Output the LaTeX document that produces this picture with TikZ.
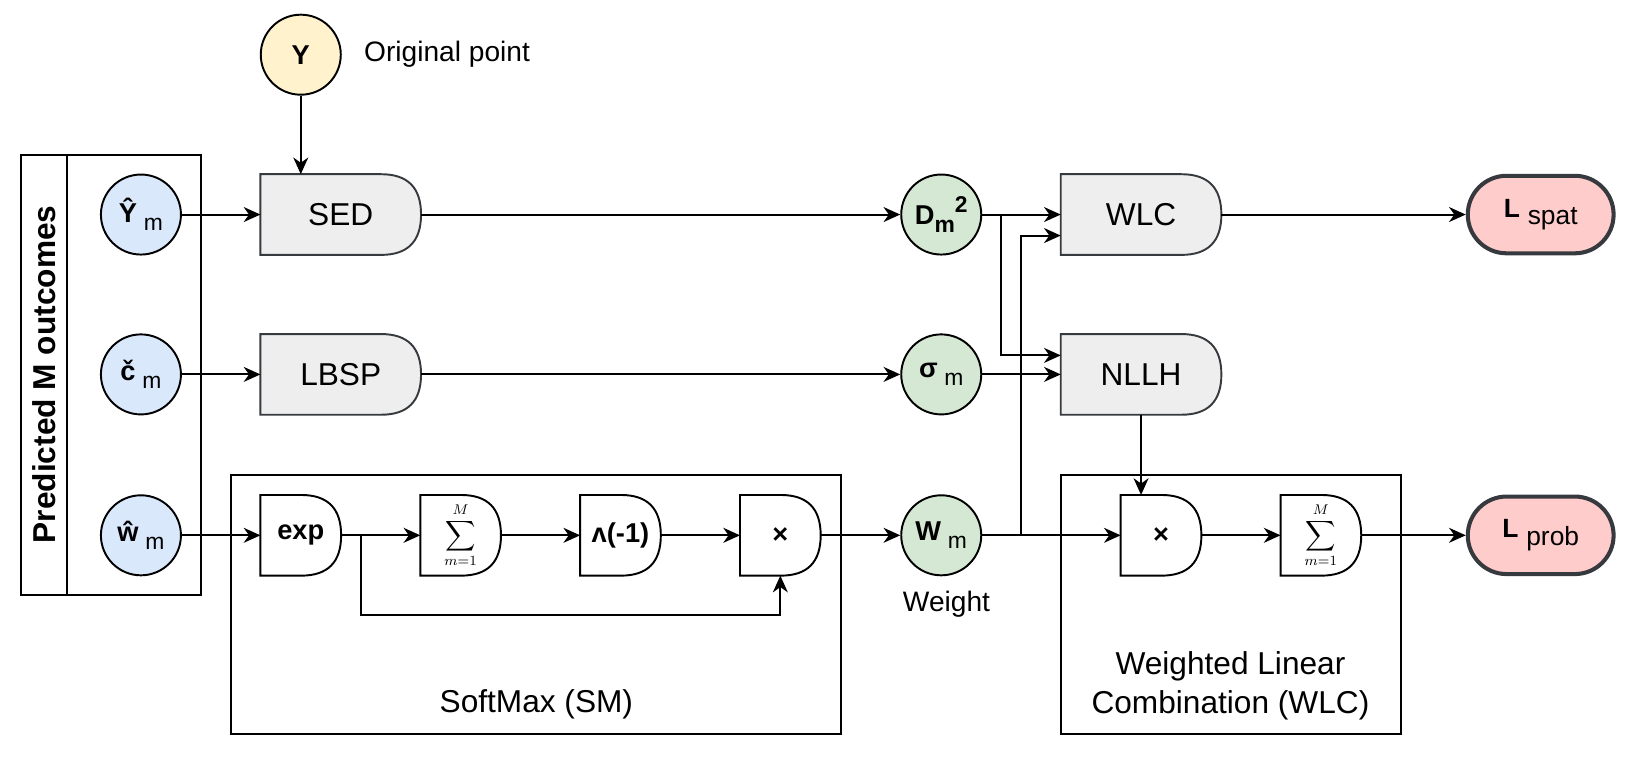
\documentclass[tikz,border=0pt]{standalone}
\usepackage[no-math]{fontspec}
\setmainfont{Liberation Sans}
\usepackage{amsmath, exscale}
\usepackage{tikz}
\usetikzlibrary{shapes.misc, arrows.meta, backgrounds}

\definecolor{inblue}{HTML}{DAE8FC}
\definecolor{outgreen}{HTML}{D5E8D4}
\definecolor{origyellow}{HTML}{FFF2CC}
\definecolor{lossred}{HTML}{FFCCCC}
\definecolor{opgrey}{HTML}{EEEEEE}
\definecolor{opedge}{HTML}{36393D}

\newcommand{\subsz}{\fontsize{13}{13}\selectfont}
\newcommand{\withsub}[2]{\textbf{#1}\hspace{0.25em}\raisebox{-0.3em}{\subsz #2}}
\newcommand{\sumM}{\fontsize{12}{14}\selectfont$\displaystyle\sum_{m=1}^{M}$\hspace{0.25cm}}

\tikzset{
    var/.style={circle, draw=black, line width=1.1pt, minimum size=1.6cm, inner sep=0pt,
        font=\fontsize{15.5}{18}\selectfont},
    op/.style={minimum width=3.197cm, minimum height=1.599cm, inner sep=0pt,
        font=\fontsize{18}{21}\selectfont},
    smallop/.style={minimum width=1.599cm, minimum height=1.599cm, inner sep=0pt,
        font=\bfseries\fontsize{15.5}{18}\selectfont},
    loss/.style={rounded rectangle, draw=opedge, fill=lossred, line width=2.3pt,
        minimum width=3.15cm, minimum height=1.55cm, font=\fontsize{15}{18}\selectfont},
    groupbox/.style={draw=black, line width=1.1pt},
    conn/.style={line width=1.1pt, -{Stealth[length=9.5pt, width=8.5pt, inset=3pt]}},
}

\begin{document}
\begin{tikzpicture}[x=0.021034cm, y=-0.021034cm]
        \useasboundingbox (0,0) rectangle (1568,719);
        % inputs
        \draw[groupbox] (20,147) rectangle (191,566);
        \draw[groupbox] (64,147) -- (64,566);
        \node[rotate=90, font=\bfseries\fontsize{18}{21}\selectfont] (predlbl) at (42,356) {Predicted M outcomes};
        \node[var, fill=inblue] (yhat) at (134,204) {\withsub{Ŷ}{m}};
        \node[var, fill=inblue] (chat) at (134,356) {\withsub{č}{m}};
        \node[var, fill=inblue] (what) at (134,509) {\withsub{ŵ}{m}};
        \node[var, fill=origyellow] (orig) at (286,52) {\textbf{Y}};
        \node[anchor=west, inner sep=0pt, font=\fontsize{16}{19}\selectfont] (origlbl) at (346,52) {Original point};
        % operations
        \node[op] (sed) at (324,204) {SED};
        \node[op] (lbsp) at (324,356) {LBSP};
        \node[op] (wlc) at (1085,204) {WLC};
        \node[op] (nllh) at (1085,356) {NLLH};
        \node[smallop] (exp) at (286,509) {exp};
        \node[smallop] (sum1) at (438,509) {\sumM};
        \node[smallop] (inv) at (590,509) {ʌ(-1)};
        \node[smallop] (mul1) at (742,509) {×};
        \node[smallop] (mul2) at (1104,509) {×};
        \node[smallop] (sum2) at (1256,509) {\sumM};
        % intermediate values
        \node[var, fill=outgreen] (dsq) at (895,204) {\textbf{D\raisebox{-0.3em}{\subsz m}\raisebox{0.45em}{\subsz 2}}};
        \node[var, fill=outgreen] (sigma) at (895,356) {\withsub{σ}{m}};
        \node[var, fill=outgreen] (wgt) at (895,509) {\withsub{W}{m}};
        \node[font=\fontsize{16}{19}\selectfont] (wgtlbl) at (900,575) {Weight};
        % losses
        \node[loss] (lspat) at (1465,204) {\textbf{L}\hspace{0.3em}\raisebox{-0.28em}{spat}};
        \node[loss] (lprob) at (1465,509) {\textbf{L}\hspace{0.3em}\raisebox{-0.28em}{prob}};
        % groups
        \node[font=\fontsize{18}{21}\selectfont] (smlbl) at (510,670) {SoftMax (SM)};
        \node[align=center, font=\fontsize{18}{22}\selectfont] (wlclbl) at (1170,652) {Weighted Linear\\Combination (WLC)};
        \begin{scope}[on background layer]
            \draw[groupbox] (220,452) rectangle (800,698);
            \draw[groupbox] (1009,452) rectangle (1332,698);
            \foreach \n/\fc/\dc in {sed/opgrey/opedge, lbsp/opgrey/opedge, wlc/opgrey/opedge, nllh/opgrey/opedge,
                exp/white/black, sum1/white/black, inv/white/black, mul1/white/black, mul2/white/black, sum2/white/black}
                \draw[draw=\dc, fill=\fc, line width=1.1pt]
                    (\n.north west) -- ([xshift=-0.8cm]\n.north east)
                    .. controls ([xshift=-0.267cm]\n.north east) and ([yshift=-0.267cm]\n.north east) .. (\n.east)
                    .. controls ([yshift=0.267cm]\n.south east) and ([xshift=-0.267cm]\n.south east) .. ([xshift=-0.8cm]\n.south east)
                    -- (\n.south west) -- cycle;
        \end{scope}
        % connectors
        \draw[conn] (orig.south) -- (orig.south |- sed.north);
        \draw[conn] (yhat) -- (sed);
        \draw[conn] (chat) -- (lbsp);
        \draw[conn] (what) -- (exp);
        \draw[conn] (sed) -- (dsq);
        \draw[conn] (lbsp) -- (sigma);
        \draw[conn] (exp) -- (sum1);
        \draw[conn] (sum1) -- (inv);
        \draw[conn] (inv) -- (mul1);
        \draw[conn] (mul1) -- (wgt);
        \coordinate (fbsplit) at (343,509);
        \draw[conn] (fbsplit) -- ++(0,76) -| (mul1.south);
        \draw[conn] (dsq) -- (wlc);
        \coordinate (dsplit) at (952,204);
        \draw[conn] (dsplit) |- ([yshift=0.38cm]nllh.west);
        \draw[conn] (sigma) -- (nllh);
        \draw[conn] (wgt) -- (mul2);
        \coordinate (wsplit) at (971,509);
        \draw[conn] (wsplit) |- ([yshift=-0.42cm]wlc.west);
        \draw[conn] (nllh.south) -- (nllh.south |- mul2.north);
        \draw[conn] (mul2) -- (sum2);
        \draw[conn] (sum2) -- (lprob);
        \draw[conn] (wlc) -- (lspat);
\end{tikzpicture}
\end{document}
